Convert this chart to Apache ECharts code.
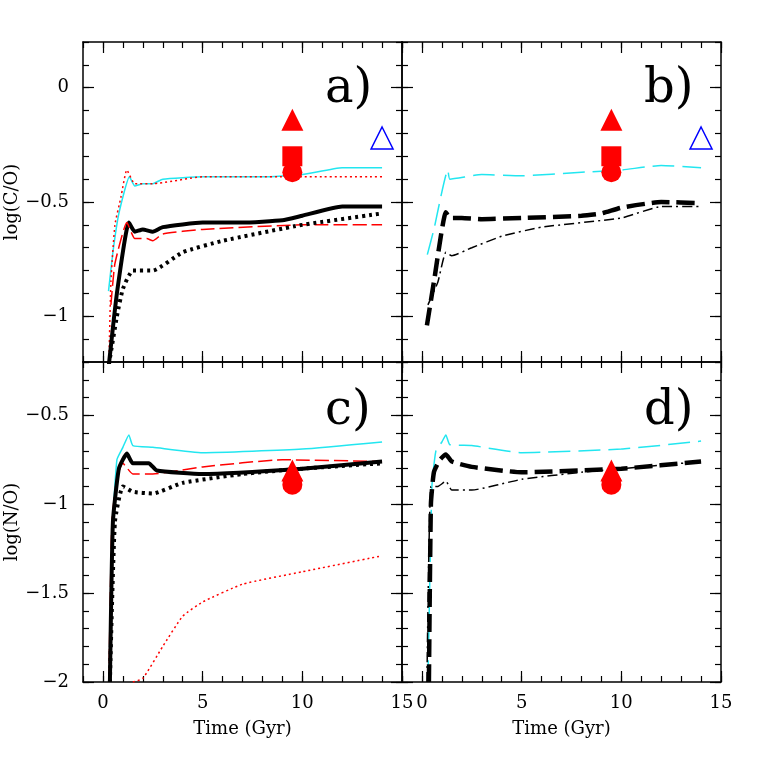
<!DOCTYPE html>
<html>
<head>
<meta charset="utf-8">
<script src="https://cdn.jsdelivr.net/npm/echarts@6/dist/echarts.min.js"></script>
<style>html,body{margin:0;padding:0;background:#fff}</style>
</head>
<body>
<div id="container" style="width:763px;height:763px"></div>
<script type="text/javascript">
// panel a) log(C/O)
var aCyan = [[0.28,-0.89],[0.5,-0.72],[0.8,-0.55],[1.33,-0.39],[1.6,-0.43],[2.0,-0.42],[2.5,-0.42],[3,-0.40],[5,-0.39],[8,-0.39],[10,-0.38],[12,-0.35],[14,-0.35]];
var aRedDot = [[0.3,-1.2],[0.4,-0.85],[0.6,-0.6],[0.9,-0.48],[1.2,-0.36],[1.6,-0.42],[2.5,-0.42],[5,-0.39],[10,-0.39],[14,-0.39]];
var aBlack = [[0.3,-1.21],[0.7,-0.9],[1.3,-0.59],[1.6,-0.63],[2,-0.62],[2.5,-0.63],[3,-0.61],[5,-0.59],[7,-0.59],[9,-0.58],[10,-0.56],[12,-0.52],[14,-0.52]];
var aRedDash = [[0.4,-0.95],[0.6,-0.77],[1.2,-0.59],[1.6,-0.66],[2.2,-0.66],[2.5,-0.67],[3,-0.64],[5,-0.62],[10,-0.60],[14,-0.60]];
var aBlackDot = [[0.3,-1.21],[0.7,-1.0],[1.0,-0.88],[1.5,-0.80],[2.5,-0.80],[4,-0.72],[6,-0.67],[10,-0.60],[14,-0.55]];
// panel b)
var bCyan = [[0.27,-0.73],[0.6,-0.62],[1.3,-0.36],[1.4,-0.40],[3,-0.38],[5,-0.385],[8,-0.37],[10,-0.36],[12,-0.34],[14,-0.35]];
var bBlack = [[0.25,-1.04],[0.6,-0.85],[1.2,-0.545],[1.4,-0.57],[2,-0.57],[3,-0.575],[5,-0.57],[8,-0.56],[9,-0.55],[10,-0.525],[12,-0.50],[14,-0.505]];
var bThin = [[0.3,-0.95],[0.8,-0.85],[1.2,-0.72],[1.5,-0.735],[2.5,-0.70],[4,-0.65],[6,-0.61],[10,-0.57],[12,-0.52],[14,-0.52]];
// panel c) log(N/O)
var cCyan = [[0.35,-2.0],[0.45,-1.2],[0.7,-0.75],[1.0,-0.68],[1.3,-0.61],[1.5,-0.67],[2.5,-0.68],[5,-0.71],[10,-0.69],[14,-0.65]];
var cBlack = [[0.35,-2.0],[0.5,-1.1],[0.8,-0.8],[1.2,-0.715],[1.5,-0.77],[2.3,-0.77],[2.7,-0.81],[5,-0.83],[10,-0.80],[14,-0.76]];
var cRedDash = [[0.3,-2.0],[0.45,-1.1],[0.7,-0.85],[1.0,-0.77],[1.5,-0.83],[2.5,-0.83],[5,-0.79],[9,-0.75],[14,-0.76]];
var cBlackDot = [[0.35,-2.0],[0.6,-1.1],[1.0,-0.9],[1.5,-0.93],[2.5,-0.94],[4,-0.88],[7,-0.83],[10,-0.80],[14,-0.77]];
var cRedDot = [[1.5,-2.0],[2,-1.98],[3,-1.80],[4,-1.63],[5,-1.55],[7,-1.45],[10,-1.38],[14,-1.29]];
// panel d)
var dCyan = [[0.3,-2.0],[0.5,-0.9],[0.7,-0.7],[1.0,-0.65],[1.2,-0.61],[1.4,-0.665],[2.5,-0.67],[5,-0.71],[10,-0.69],[14,-0.645]];
var dBlack = [[0.35,-2.0],[0.45,-1.0],[0.6,-0.82],[0.9,-0.75],[1.2,-0.72],[1.5,-0.76],[2.5,-0.79],[5,-0.82],[10,-0.80],[14,-0.76]];
var dThin = [[0.25,-2.0],[0.45,-0.9],[0.8,-0.9],[1.2,-0.87],[1.5,-0.92],[2.5,-0.92],[5,-0.86],[8,-0.82],[10,-0.80],[14,-0.76]];
// observations
var obsTop = [[9.5,-0.14,'triangle'],[9.5,-0.30,'rect'],[9.5,-0.37,'circle']];
var obsTopBlue = [[14.0,-0.22]];
var obsBot = [[9.5,-0.81,'triangle'],[9.5,-0.86,'diamond'],[9.5,-0.89,'circle']];
var xTicks = [0,5,10,15];
var yTicksTop = [0,-0.5,-1];
var yTicksBot = [-0.5,-1,-1.5,-2];

var dom = document.getElementById("container");
var myChart = echarts.init(dom);
var font = 'DejaVu Serif';
var grids = [
    {left:83, top:42, width:319, height:320},
    {left:402, top:42, width:319, height:320},
    {left:83, top:362, width:319, height:320},
    {left:402, top:362, width:319, height:320}
];
function range(a, b, s) {
    var r = [];
    for (var v = a; v <= b + 1e-9; v += s) r.push(Math.round(v * 10) / 10);
    return r;
}
var xAxes = [], yAxes = [];
function fmt(v) { return String(v).replace('-', '\u2212'); }
grids.forEach(function (g, gi) {
    var bottomRow = gi >= 2, leftCol = gi % 2 === 0;
    var ymin = bottomRow ? -2 : -1.2, ymax = bottomRow ? -0.2 : 0.2;
    ['bottom', 'top'].forEach(function (pos) {
        [true, false].forEach(function (major) {
            xAxes.push({
                type: 'value', gridIndex: gi, position: pos, min: -1, max: 15,
                axisLine: {show: major, onZero: false, lineStyle: {color: '#000', width: 1.5}},
                splitLine: {show: false},
                axisTick: {inside: true, length: major ? 11 : 6, lineStyle: {color: '#000', width: 1.2},
                    customValues: major ? [0,5,10,15] : range(-1, 15, 1)},
                axisLabel: {show: major && pos === 'bottom' && bottomRow, customValues: xTicks,
                    color: '#000', fontFamily: font, fontSize: 18, margin: 12},
                name: (major && pos === 'bottom' && bottomRow) ? 'Time (Gyr)' : '',
                nameLocation: 'middle', nameGap: 38,
                nameTextStyle: {color: '#000', fontFamily: font, fontSize: 18}
            });
        });
    });
    ['left', 'right'].forEach(function (pos) {
        [true, false].forEach(function (major) {
            yAxes.push({
                type: 'value', gridIndex: gi, position: pos, min: ymin, max: ymax,
                axisLine: {show: major, onZero: false, lineStyle: {color: '#000', width: 1.5}},
                splitLine: {show: false},
                axisTick: {inside: true, length: major ? 11 : 6, lineStyle: {color: '#000', width: 1.2},
                    customValues: major ? range(-2, 0, 0.5).filter(function (v) { return v >= ymin && v <= ymax; })
                                        : range(ymin, ymax, 0.1)},
                axisLabel: {show: major && pos === 'left' && leftCol,
                    customValues: bottomRow ? yTicksBot : yTicksTop,
                    formatter: fmt, color: '#000', fontFamily: font, fontSize: 18, margin: 14},
                name: (major && pos === 'left' && leftCol) ? (bottomRow ? 'log(N/O)' : 'log(C/O)') : '',
                nameLocation: 'middle', nameGap: 60,
                nameTextStyle: {color: '#000', fontFamily: font, fontSize: 18}
            });
        });
    });
});

function line(gi, data, color, width, type) {
    return {type: 'line', xAxisIndex: gi * 4, yAxisIndex: gi * 4, data: data, symbol: 'none',
        smooth: 0.15, lineStyle: {color: color, width: width, type: type}, z: 3};
}
function obs(gi, list) {
    return list.map(function (p) {
        return {type: 'scatter', xAxisIndex: gi * 4, yAxisIndex: gi * 4, data: [[p[0], p[1]]],
            symbol: p[2], symbolSize: p[2] === 'triangle' ? 22 : 20,
            itemStyle: {color: 'red', opacity: 1}, z: 5};
    });
}
function blue(gi) {
    return {type: 'scatter', xAxisIndex: gi * 4, yAxisIndex: gi * 4, data: obsTopBlue,
        symbol: 'triangle', symbolSize: 22,
        itemStyle: {color: 'rgba(0,0,0,0)', borderColor: '#0000ff', borderWidth: 1.5, opacity: 1}, z: 5};
}
var series = [
    line(0, aCyan, '#22e6f0', 1.5, 'solid'),
    line(0, aRedDot, 'red', 1.5, [2, 3]),
    line(0, aBlack, '#000', 4, 'solid'),
    line(0, aRedDash, 'red', 1.5, [14, 5]),
    line(0, aBlackDot, '#000', 4, [3, 4]),
    line(1, bCyan, '#22e6f0', 1.5, [22, 8]),
    line(1, bBlack, '#000', 4.5, [18, 7]),
    line(1, bThin, '#000', 1.5, [10, 4, 2, 4]),
    line(2, cCyan, '#22e6f0', 1.5, 'solid'),
    line(2, cRedDash, 'red', 1.5, [14, 5]),
    line(2, cBlack, '#000', 4, 'solid'),
    line(2, cBlackDot, '#000', 4, [3, 4]),
    line(2, cRedDot, 'red', 1.5, [2, 3]),
    line(3, dCyan, '#22e6f0', 1.5, [22, 8]),
    line(3, dBlack, '#000', 4.5, [18, 7]),
    line(3, dThin, '#000', 1.5, [10, 4, 2, 4]),
    blue(0), blue(1)
].concat(obs(0, obsTop), obs(1, obsTop), obs(2, obsBot), obs(3, obsBot));

var letters = [['a)', 325, 66], ['b)', 644, 66], ['c)', 325, 388], ['d)', 644, 388]];
var option = {
    animation: false,
    grid: grids,
    xAxis: xAxes,
    yAxis: yAxes,
    series: series,
    graphic: letters.map(function (l) {
        return {type: 'text', left: l[1], top: l[2],
            style: {text: l[0], font: '48px "DejaVu Serif"', fill: '#000'}};
    })
};
myChart.setOption(option);
</script>
</body>
</html>
